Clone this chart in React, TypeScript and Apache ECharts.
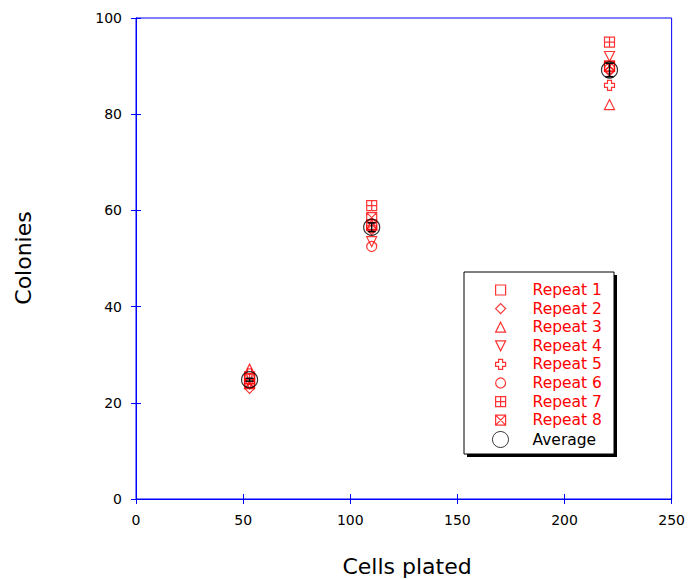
import React, { useEffect, useRef } from "react";
import * as echarts from "echarts";

const cellsPlated = [53, 110, 221];
const repeat1 = [25, 57, 90];
const repeat2 = [23, 56, 89];
const repeat3 = [27, 57, 82];
const repeat4 = [24, 53.5, 92];
const repeat5 = [26, 56.5, 86];
const repeat6 = [24, 52.5, 89.5];
const repeat7 = [25, 61, 95];
const repeat8 = [24, 58.5, 90];
const averageValues = [24.8, 56.5, 89.2];
const averageErrors = [0.3, 0.9, 1.4];
const xTicks = [0, 50, 100, 150, 200, 250];
const yTicks = [0, 20, 40, 60, 80, 100];

const repeatNames = ["Repeat 1", "Repeat 2", "Repeat 3", "Repeat 4", "Repeat 5", "Repeat 6", "Repeat 7", "Repeat 8"];
const repeatValues = [repeat1, repeat2, repeat3, repeat4, repeat5, repeat6, repeat7, repeat8];
const repeatSymbols = [
  "path://M0,0 L10,0 L10,10 L0,10 Z",
  "path://M0,5 L5,0 L10,5 L5,10 Z",
  "path://M5,0 L10,10 L0,10 Z",
  "path://M0,0 L10,0 L5,10 Z",
  "path://M3,0 L7,0 L7,3 L10,3 L10,7 L7,7 L7,10 L3,10 L3,7 L0,7 L0,3 L3,3 Z",
  "circle",
  "path://M0,0 L10,0 L10,10 L0,10 Z M5,0 L5,10 M0,5 L10,5",
  "path://M0,0 L10,0 L10,10 L0,10 Z M0,0 L10,10 M10,0 L0,10",
];

const RED = "#ff0000";
const BLUE = "#0000ff";
const FONT = "DejaVu Sans";

export default function App() {
  const ref = useRef<HTMLDivElement>(null);
  useEffect(() => {
    if (!ref.current) return;
    const chart = echarts.init(ref.current, null, { renderer: "svg" });
    const redStyle = { color: "rgba(0,0,0,0)", borderColor: RED, borderWidth: 1.2 };
    const repeatSeries = repeatNames.map((name, i) => ({
      name,
      type: "scatter",
      symbol: repeatSymbols[i],
      symbolSize: 10,
      symbolKeepAspect: true,
      itemStyle: redStyle,
      data: cellsPlated.map((x, j) => [x, repeatValues[i][j]]),
      z: 3,
    }));
    const option: any = {
      animation: false,
      backgroundColor: "#ffffff",
      textStyle: { fontFamily: FONT },
      grid: { left: 136, right: 16, top: 18, bottom: 81, show: true, borderColor: BLUE, borderWidth: 1, backgroundColor: "transparent" },
      xAxis: [
        {
          type: "value",
          min: xTicks[0],
          max: xTicks[xTicks.length - 1],
          interval: 50,
          position: "bottom",
          axisLine: { show: true, lineStyle: { color: BLUE, width: 1 } },
          axisTick: { show: true, inside: true, length: 5, lineStyle: { color: BLUE } },
          axisLabel: { color: "#000", fontSize: 14, fontFamily: FONT, margin: 14 },
          splitLine: { show: false },
        },
        {
          type: "value",
          min: xTicks[0],
          max: xTicks[xTicks.length - 1],
          interval: 50,
          position: "top",
          axisLine: { show: true, lineStyle: { color: BLUE, width: 1 } },
          axisTick: { show: true, inside: true, length: 5, lineStyle: { color: BLUE } },
          axisLabel: { show: false },
          splitLine: { show: false },
        },
      ],
      yAxis: [
        {
          type: "value",
          min: yTicks[0],
          max: yTicks[yTicks.length - 1],
          interval: 20,
          position: "left",
          axisLine: { show: true, lineStyle: { color: BLUE, width: 1 } },
          axisTick: { show: true, inside: true, length: 5, lineStyle: { color: BLUE } },
          axisLabel: { color: "#000", fontSize: 14, fontFamily: FONT, margin: 14 },
          splitLine: { show: false },
        },
        {
          type: "value",
          min: yTicks[0],
          max: yTicks[yTicks.length - 1],
          interval: 20,
          position: "right",
          axisLine: { show: true, lineStyle: { color: BLUE, width: 1 } },
          axisTick: { show: true, inside: true, length: 5, lineStyle: { color: BLUE } },
          axisLabel: { show: false },
          splitLine: { show: false },
        },
      ],
      legend: [
        {
          orient: "vertical",
          left: 495,
          top: 282,
          padding: 0,
          itemWidth: 54,
          itemHeight: 10,
          itemGap: 2.6,
          z: 10,
          selectedMode: false,
          symbolKeepAspect: true,
          itemStyle: { color: "rgba(0,0,0,0)", borderColor: RED, borderWidth: 1.2 },
          textStyle: { color: RED, fontSize: 15.5, fontFamily: FONT, lineHeight: 16 },
          data: repeatNames.map((n, i) => ({
            name: n,
            icon: repeatSymbols[i],
            itemStyle: { color: "rgba(0,0,0,0)", borderColor: RED, borderWidth: 1.2 },
          })),
        },
        {
          orient: "vertical",
          left: 492,
          top: 431,
          padding: 0,
          itemWidth: 54,
          itemHeight: 16,
          z: 10,
          selectedMode: false,
          symbolKeepAspect: true,
          itemStyle: { color: "rgba(0,0,0,0)", borderColor: "#000", borderWidth: 1 },
          textStyle: { color: "#000", fontSize: 15.5, fontFamily: FONT, lineHeight: 16 },
          data: [{ name: "Average" }],
        },
      ],
      graphic: [
        { type: "rect", z: 1, shape: { x: 467, y: 275, width: 150, height: 182 }, style: { fill: "#000" } },
        { type: "rect", z: 2, shape: { x: 464, y: 272, width: 150, height: 182 }, style: { fill: "#fff", stroke: "#000", lineWidth: 1 } },
        {
          type: "text",
          x: 23,
          y: 258,
          rotation: Math.PI / 2,
          style: { text: "Colonies", fontSize: 22, fontFamily: FONT, fill: "#000", align: "center", verticalAlign: "middle" },
        },
        {
          type: "text",
          x: 407,
          y: 566,
          style: { text: "Cells plated", fontSize: 22, fontFamily: FONT, fill: "#000", align: "center", verticalAlign: "middle" },
        },
      ],
      series: [
        ...repeatSeries,
        {
          name: "Average",
          type: "scatter",
          symbol: "circle",
          symbolSize: 16,
          itemStyle: { color: "rgba(0,0,0,0)", borderColor: "#000", borderWidth: 1.2 },
          data: cellsPlated.map((x, j) => [x, averageValues[j]]),
          z: 5,
        },
        {
          name: "AverageError",
          type: "custom",
          encode: { x: 0, y: 1 },
          z: 6,
          data: cellsPlated.map((x, j) => [x, averageValues[j], averageErrors[j]]),
          renderItem: (params: any, api: any) => {
            const x = api.value(0);
            const y = api.value(1);
            const e = api.value(2);
            const top = api.coord([x, y + e]);
            const bot = api.coord([x, y - e]);
            const hw = 4;
            const st = { stroke: "#000", lineWidth: 1.5 };
            return {
              type: "group",
              children: [
                { type: "line", shape: { x1: top[0], y1: top[1], x2: bot[0], y2: bot[1] }, style: st },
                { type: "line", shape: { x1: top[0] - hw, y1: top[1], x2: top[0] + hw, y2: top[1] }, style: st },
                { type: "line", shape: { x1: bot[0] - hw, y1: bot[1], x2: bot[0] + hw, y2: bot[1] }, style: st },
              ],
            };
          },
        },
      ],
    };
    chart.setOption(option);
    return () => chart.dispose();
  }, []);
  return <div ref={ref} style={{ width: 688, height: 580, position: "absolute", left: 0, top: 0 }} />;
}
